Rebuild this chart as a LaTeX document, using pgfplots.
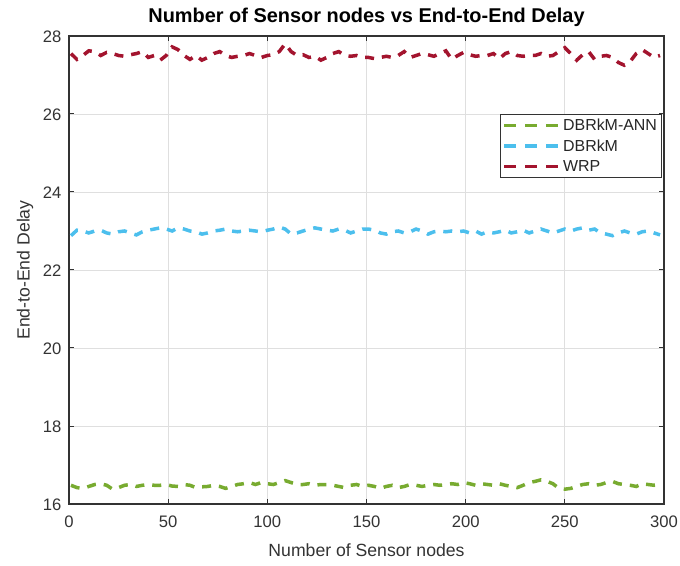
\documentclass[border=0pt]{standalone}
\usepackage{pgfplots}
\pgfplotsset{compat=1.18}
\usepackage{pgfplotstable}
\usepackage{fontspec}
\setmainfont{Liberation Sans}
\definecolor{cgreen}{rgb}{0.47,0.67,0.19}
\definecolor{cblue}{rgb}{0.30,0.75,0.93}
\definecolor{cred}{rgb}{0.64,0.08,0.18}
\pgfplotstableread{
x y
1 27.55
4 27.40
7 27.50
10 27.62
13 27.60
16 27.50
19 27.58
22 27.55
25 27.50
28 27.48
31 27.52
34 27.55
37 27.60
40 27.45
43 27.50
46 27.38
49 27.50
52 27.72
55 27.65
58 27.50
61 27.40
64 27.50
67 27.38
70 27.45
73 27.55
76 27.60
79 27.50
82 27.45
85 27.48
88 27.50
91 27.55
94 27.50
97 27.45
100 27.50
103 27.52
106 27.60
109 27.80
112 27.60
115 27.50
118 27.52
121 27.45
124 27.48
127 27.38
130 27.45
133 27.55
136 27.60
139 27.50
142 27.48
145 27.50
148 27.45
151 27.45
154 27.42
157 27.45
160 27.48
163 27.45
166 27.50
169 27.60
172 27.45
175 27.50
178 27.55
181 27.52
184 27.48
187 27.55
190 27.62
193 27.40
196 27.50
199 27.58
202 27.52
205 27.48
208 27.50
211 27.50
214 27.55
217 27.42
220 27.55
223 27.60
226 27.50
229 27.48
232 27.50
235 27.50
238 27.55
241 27.48
244 27.50
247 27.60
250 27.70
253 27.55
256 27.38
259 27.52
262 27.60
265 27.40
268 27.48
271 27.50
274 27.45
277 27.32
280 27.25
283 27.35
286 27.55
289 27.65
292 27.55
295 27.45
298 27.50
}\wrp
\pgfplotstableread{
x y
1 22.88
4 23.02
7 23.00
10 22.95
13 23.00
16 23.02
19 22.95
22 22.92
25 22.98
28 23.00
31 22.95
34 22.90
37 22.98
40 23.02
43 23.05
46 23.08
49 23.05
52 23.00
55 23.08
58 23.05
61 23.00
64 22.98
67 22.92
70 22.95
73 23.00
76 23.02
79 23.05
82 23.00
85 22.98
88 23.00
91 23.02
94 23.00
97 22.98
100 23.02
103 23.05
106 23.10
109 23.05
112 22.92
115 22.95
118 23.00
121 23.05
124 23.08
127 23.05
130 23.02
133 23.00
136 23.05
139 23.02
142 22.95
145 23.00
148 23.05
151 23.05
154 23.02
157 22.95
160 22.92
163 22.98
166 23.00
169 22.95
172 22.98
175 23.05
178 23.00
181 22.92
184 22.98
187 23.00
190 22.98
193 23.00
196 22.98
199 23.00
202 22.95
205 23.00
208 22.92
211 22.98
214 22.95
217 22.98
220 23.02
223 22.95
226 22.98
229 23.02
232 22.95
235 23.00
238 23.05
241 23.00
244 22.95
247 23.00
250 23.05
253 23.00
256 23.05
259 23.08
262 23.02
265 23.05
268 22.95
271 22.92
274 22.88
277 22.95
280 23.00
283 22.95
286 22.92
289 22.98
292 23.00
295 22.95
298 22.90
}\dbrkm
\pgfplotstableread{
x y
1 16.48
4 16.42
7 16.40
10 16.45
13 16.50
16 16.52
19 16.48
22 16.38
25 16.42
28 16.48
31 16.50
34 16.45
37 16.48
40 16.50
43 16.48
46 16.48
49 16.50
52 16.46
55 16.45
58 16.50
61 16.48
64 16.42
67 16.44
70 16.45
73 16.48
76 16.45
79 16.40
82 16.45
85 16.50
88 16.52
91 16.55
94 16.50
97 16.55
100 16.52
103 16.50
106 16.55
109 16.60
112 16.55
115 16.50
118 16.50
121 16.52
124 16.48
127 16.50
130 16.50
133 16.48
136 16.45
139 16.42
142 16.48
145 16.50
148 16.45
151 16.48
154 16.45
157 16.40
160 16.45
163 16.48
166 16.42
169 16.45
172 16.50
175 16.48
178 16.45
181 16.48
184 16.50
187 16.48
190 16.50
193 16.52
196 16.50
199 16.55
202 16.52
205 16.48
208 16.52
211 16.50
214 16.48
217 16.52
220 16.48
223 16.45
226 16.42
229 16.48
232 16.55
235 16.58
238 16.62
241 16.58
244 16.52
247 16.40
250 16.38
253 16.40
256 16.45
259 16.50
262 16.52
265 16.48
268 16.50
271 16.55
274 16.58
277 16.52
280 16.50
283 16.48
286 16.45
289 16.52
292 16.50
295 16.48
298 16.50
}\ann
\begin{document}
\begin{tikzpicture}
\begin{axis}[
  name=ax,
  scale only axis,
  width=595bp, height=468bp,
  xmin=0, xmax=300, ymin=16, ymax=28,
  xtick={0,50,...,300}, ytick={16,18,...,28},
  grid=major,
  major grid style={gray!25, line width=0.8bp},
  tick align=inside,
  major tick length=5bp,
  axis line style={line width=1.2bp, black!80},
  every tick/.style={black!80, line width=1bp},
  /pgf/number format/assume math mode=true,
  tick label style={font=\fontsize{16.7}{19}\selectfont, text=black!80},
  xticklabel style={yshift=-8bp},
  yticklabel style={xshift=-4bp, yshift=-1bp},
  title={\bfseries Number of Sensor nodes vs End-to-End Delay},
  title style={font=\fontsize{20}{23}\selectfont, at={(axis description cs:0.5,1)}, anchor=center, yshift=13bp},
  xlabel={Number of Sensor nodes},
  ylabel={End-to-End Delay},
  label style={font=\fontsize{17.7}{20}\selectfont, text=black!80},
  xlabel style={at={(axis description cs:0.5,0)}, anchor=center, yshift=-46bp},
  ylabel style={at={(axis description cs:-0.074,0.5)}, anchor=center},
  legend style={at={(0.9966,0.834)}, anchor=north east, font=\fontsize{16}{18}\selectfont, draw=black!80, line width=1bp, inner xsep=2.5bp, inner ysep=3bp, row sep=3.5bp, text=black!85},
  legend cell align=left,
  legend image code/.code={\draw[#1, line width=3.5bp, dash pattern=on 12bp off 9bp] (0bp,0bp) -- (55bp,0bp);},
  every axis plot/.append style={line width=3.5bp, dash pattern=on 9bp off 8bp},
]
\addplot[cgreen] table[x=x,y=y]{\ann};
\addlegendentry{DBRkM-ANN}
\addplot[cblue] table[x=x,y=y]{\dbrkm};
\addlegendentry{DBRkM}
\addplot[cred] table[x=x,y=y]{\wrp};
\addlegendentry{WRP}
\end{axis}
\pgfresetboundingbox
\path ([shift={(-69bp,-62bp)}]ax.south west) rectangle ([shift={(16bp,36bp)}]ax.north east);
\end{tikzpicture}
\end{document}
